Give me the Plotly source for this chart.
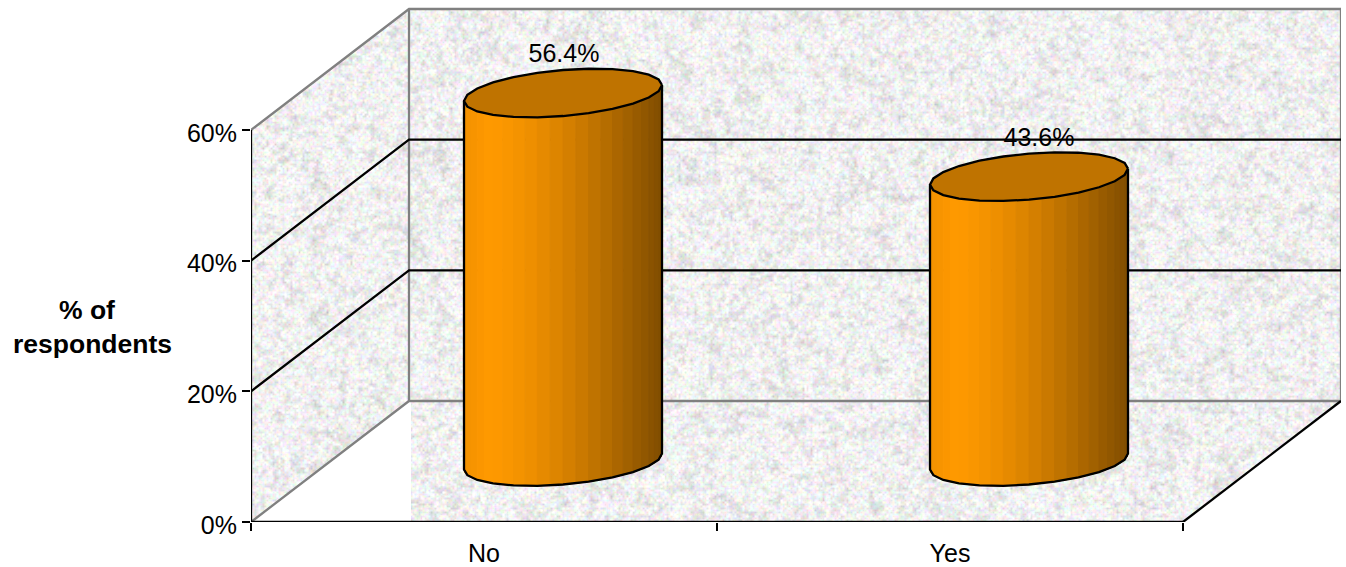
import base64
import struct
import zlib

import numpy as np
import plotly.graph_objects as go

# Survey results
categories = ["No", "Yes"]
percent_values = [56.4, 43.6]
percent_labels = ["56.4%", "43.6%"]
y_ticks = [0, 20, 40, 60]
y_tick_labels = ["0%", "20%", "40%", "60%"]
title_lines = ["% of", "respondents"]

FONT = "Liberation Sans, Arial, sans-serif"
TICK_SIZE = 25
TITLE_SIZE = 26.5
LINE_WIDTH = 2.3

# Canvas and axis scale
WIDTH, HEIGHT = 1346, 567
MARGIN_L, MARGIN_R, MARGIN_T, MARGIN_B = 251, 5, 0, 45
PX_PER_CATEGORY = 466.0
PX_PER_PERCENT = 392.0 / 60.0
PLOT_W = WIDTH - MARGIN_L - MARGIN_R
PLOT_H = HEIGHT - MARGIN_T - MARGIN_B
X_MAX = PLOT_W / PX_PER_CATEGORY
Y_MAX = PLOT_H / PX_PER_PERCENT

# Oblique depth of the 3-D box, in axis units
DEPTH_X = 158.0 / PX_PER_CATEGORY
DEPTH_Y = 121.0 / PX_PER_PERCENT
FLOOR_LEFT = 160.0 / PX_PER_CATEGORY
N_CAT = len(categories)

# Cylinder shape, in axis units
RADIUS_X = 99.0 / PX_PER_CATEGORY
RADIUS_Y = 23.0 / PX_PER_PERCENT
TILT_Y = 8.0 / PX_PER_PERCENT
FACETS = 48
OUTLINE_STEP = 2
LABEL_SHIFT_X = [1.0 / PX_PER_CATEGORY, 10.0 / PX_PER_CATEGORY]
LABEL_RISE = 37.0 / PX_PER_PERCENT

GREY = "#808080"
BLACK = "#000000"
TOP_COLOR = "#bf7300"


def lattice(h, w, seed):
    j, i = np.mgrid[0:h, 0:w]
    v = np.sin(i * 12.9898 + j * 78.233 + seed) * 43758.5453
    return v - np.floor(v)


def smooth(h, w, cell, seed):
    coarse = lattice(h // cell + 2, w // cell + 2, seed)
    yy = np.arange(h) / cell
    xx = np.arange(w) / cell
    y0 = yy.astype(int)
    x0 = xx.astype(int)
    fy = (yy - y0)[:, None]
    fx = (xx - x0)[None, :]
    a = coarse[np.ix_(y0, x0)]
    b = coarse[np.ix_(y0, x0 + 1)]
    c = coarse[np.ix_(y0 + 1, x0)]
    d = coarse[np.ix_(y0 + 1, x0 + 1)]
    return (a * (1 - fx) + b * fx) * (1 - fy) + (c * (1 - fx) + d * fx) * fy


def inside(poly, px, py):
    result = np.ones_like(px, dtype=bool)
    for (x1, y1), (x2, y2) in zip(poly, poly[1:] + poly[:1]):
        result &= (x2 - x1) * (py - y1) - (y2 - y1) * (px - x1) >= 0
    return result


def granite_uri():
    """Speckled stone texture for the walls and floor, as an RGBA PNG."""
    h, w = PLOT_H, PLOT_W
    blotch = 0.6 * smooth(h, w, 4, 1.0) + 0.4 * smooth(h, w, 9, 2.0)
    fine = smooth(h, w, 2, 3.0)
    grey = 247 - 62 * np.clip(blotch - 0.42, 0, 1) - 22 * np.clip(fine - 0.5, 0, 1)
    rgb = np.stack(
        [grey + 36 * (smooth(h, w, 2, s) - 0.5) for s in (4.0, 5.0, 6.0)], axis=-1
    )
    rgb = np.clip(rgb, 0, 255)

    def px(x, v):
        return x * PX_PER_CATEGORY, h - v * PX_PER_PERCENT

    left_wall = [px(0, 60), px(DEPTH_X, 60 + DEPTH_Y), px(DEPTH_X, DEPTH_Y), px(0, 0)]
    back_wall = [
        px(DEPTH_X, 60 + DEPTH_Y),
        px(N_CAT + DEPTH_X, 60 + DEPTH_Y),
        px(N_CAT + DEPTH_X, DEPTH_Y),
        px(DEPTH_X, DEPTH_Y),
    ]
    floor = [
        px(FLOOR_LEFT, DEPTH_Y),
        px(N_CAT + DEPTH_X, DEPTH_Y),
        px(N_CAT, 0),
        px(FLOOR_LEFT, 0),
    ]
    j, i = np.mgrid[0:h, 0:w]
    mask = inside(left_wall, i + 0.5, j + 0.5)
    mask |= inside(back_wall, i + 0.5, j + 0.5)
    mask |= inside(floor, i + 0.5, j + 0.5)
    rgba = np.dstack([rgb, mask * 255.0]).astype(np.uint8)

    raw = b"".join(b"\x00" + row.tobytes() for row in rgba)

    def chunk(tag, body):
        crc = zlib.crc32(tag + body) & 0xFFFFFFFF
        return struct.pack(">I", len(body)) + tag + body + struct.pack(">I", crc)

    png = (
        b"\x89PNG\r\n\x1a\n"
        + chunk(b"IHDR", struct.pack(">IIBBBBB", w, h, 8, 6, 0, 0, 0))
        + chunk(b"IDAT", zlib.compress(raw, 9))
        + chunk(b"IEND", b"")
    )
    return "data:image/png;base64," + base64.b64encode(png).decode()


def line_trace(xs, ys, color):
    return go.Scatter(
        x=xs,
        y=ys,
        mode="lines",
        line=dict(color=color, width=LINE_WIDTH),
        hoverinfo="skip",
        showlegend=False,
        cliponaxis=False,
    )


def facet_color(u):
    """Orange shade across the cylinder, u running 0 (left) to 1 (right)."""
    if u < 0.13:
        k = 0.95 + 0.05 * u / 0.13
    else:
        k = 1.0 - 0.5 * ((u - 0.13) / 0.87) ** 1.4
    return f"rgb({round(255 * k)},{round(153 * k)},0)"


fig = go.Figure()

# Box outline and gridlines behind the cylinders
fig.add_trace(line_trace(
    [0, DEPTH_X, N_CAT + DEPTH_X, N_CAT + DEPTH_X, DEPTH_X, 0],
    [60, 60 + DEPTH_Y, 60 + DEPTH_Y, DEPTH_Y, DEPTH_Y, 0],
    GREY,
))
fig.add_trace(line_trace([DEPTH_X, DEPTH_X], [60 + DEPTH_Y, DEPTH_Y], GREY))
for tick in y_ticks[1:-1]:
    fig.add_trace(line_trace(
        [0, DEPTH_X, N_CAT + DEPTH_X], [tick, tick + DEPTH_Y, tick + DEPTH_Y], BLACK
    ))
fig.add_trace(line_trace([N_CAT, N_CAT + DEPTH_X], [0, DEPTH_Y], BLACK))
fig.add_trace(line_trace([0, 0, N_CAT], [60, 0, 0], BLACK))

# One faceted cylinder per category
angles = np.linspace(0, 2 * np.pi, FACETS + 1)
for index, value in enumerate(percent_values):
    center_x = index + 0.5 + DEPTH_X / 2
    base_y = DEPTH_Y / 2
    ex = center_x + RADIUS_X * np.cos(angles)
    ey = TILT_Y * np.cos(angles) + RADIUS_Y * np.sin(angles)

    for k in range(FACETS // 2, FACETS):
        u = (0.5 * (ex[k] + ex[k + 1]) - (center_x - RADIUS_X)) / (2 * RADIUS_X)
        color = facet_color(u)
        fig.add_trace(go.Scatter(
            x=[ex[k], ex[k + 1], ex[k + 1], ex[k], ex[k]],
            y=[
                base_y + ey[k],
                base_y + ey[k + 1],
                base_y + value + ey[k + 1],
                base_y + value + ey[k],
                base_y + ey[k],
            ],
            mode="lines",
            fill="toself",
            fillcolor=color,
            line=dict(color=color, width=1),
            hoverinfo="skip",
            showlegend=False,
        ))

    side_idx = list(range(FACETS // 2, FACETS + 1, OUTLINE_STEP))
    fig.add_trace(line_trace(
        [ex[FACETS // 2]] + [ex[k] for k in side_idx] + [ex[FACETS]],
        [base_y + value + ey[FACETS // 2]]
        + [base_y + ey[k] for k in side_idx]
        + [base_y + value + ey[FACETS]],
        BLACK,
    ))
    fig.add_trace(go.Scatter(
        x=ex[::OUTLINE_STEP],
        y=base_y + value + ey[::OUTLINE_STEP],
        mode="lines",
        fill="toself",
        fillcolor=TOP_COLOR,
        line=dict(color=BLACK, width=LINE_WIDTH),
        hoverinfo="skip",
        showlegend=False,
    ))

# Value labels above each cylinder
fig.add_trace(go.Scatter(
    x=[i + 0.5 + DEPTH_X / 2 + LABEL_SHIFT_X[i] for i in range(N_CAT)],
    y=[v + DEPTH_Y / 2 + LABEL_RISE for v in percent_values],
    mode="text",
    text=percent_labels,
    textposition="middle center",
    textfont=dict(family=FONT, size=TICK_SIZE, color=BLACK),
    hoverinfo="skip",
    showlegend=False,
    cliponaxis=False,
))

fig.update_layout(
    template="none",
    width=WIDTH,
    height=HEIGHT,
    autosize=False,
    margin=dict(l=MARGIN_L, r=MARGIN_R, t=MARGIN_T, b=MARGIN_B, pad=0),
    paper_bgcolor="white",
    plot_bgcolor="rgba(0,0,0,0)",
    showlegend=False,
    font=dict(family=FONT, size=TICK_SIZE, color=BLACK),
    xaxis=dict(
        automargin=False,
        range=[0, X_MAX],
        showgrid=False,
        zeroline=False,
        showline=False,
        tickmode="array",
        tickvals=[i + 0.5 for i in range(N_CAT)],
        ticktext=categories,
        ticks="outside",
        ticklen=9,
        tickcolor="rgba(0,0,0,0)",
        minor=dict(
            tickmode="array",
            tickvals=list(range(N_CAT + 1)),
            ticks="outside",
            ticklen=8,
            tickwidth=2,
            tickcolor=BLACK,
            showgrid=False,
        ),
    ),
    yaxis=dict(
        automargin=False,
        range=[0, Y_MAX],
        showgrid=False,
        zeroline=False,
        showline=False,
        tickmode="array",
        tickvals=y_ticks,
        ticktext=y_tick_labels,
        ticks="outside",
        ticklen=8,
        tickwidth=2,
        tickcolor=BLACK,
        ticklabelshift=3,
    ),
    images=[dict(
        source=granite_uri(),
        xref="x",
        yref="y",
        x=0,
        y=Y_MAX,
        sizex=X_MAX,
        sizey=Y_MAX,
        sizing="stretch",
        xanchor="left",
        yanchor="top",
        layer="below",
    )],
    # Axis title lines sit in the left margin, as two separately centred rows
    annotations=[
        dict(
            text=f"<b>{title_lines[0]}</b>",
            xref="paper",
            yref="paper",
            x=-164 / PLOT_W,
            y=212 / PLOT_H,
            xanchor="center",
            yanchor="middle",
            showarrow=False,
            font=dict(family=FONT, size=TITLE_SIZE, color=BLACK),
        ),
        dict(
            text=f"<b>{title_lines[1]}</b>",
            xref="paper",
            yref="paper",
            x=-159 / PLOT_W,
            y=178 / PLOT_H,
            xanchor="center",
            yanchor="middle",
            showarrow=False,
            font=dict(family=FONT, size=TITLE_SIZE, color=BLACK),
        ),
    ],
)

fig.write_html("out.html")
